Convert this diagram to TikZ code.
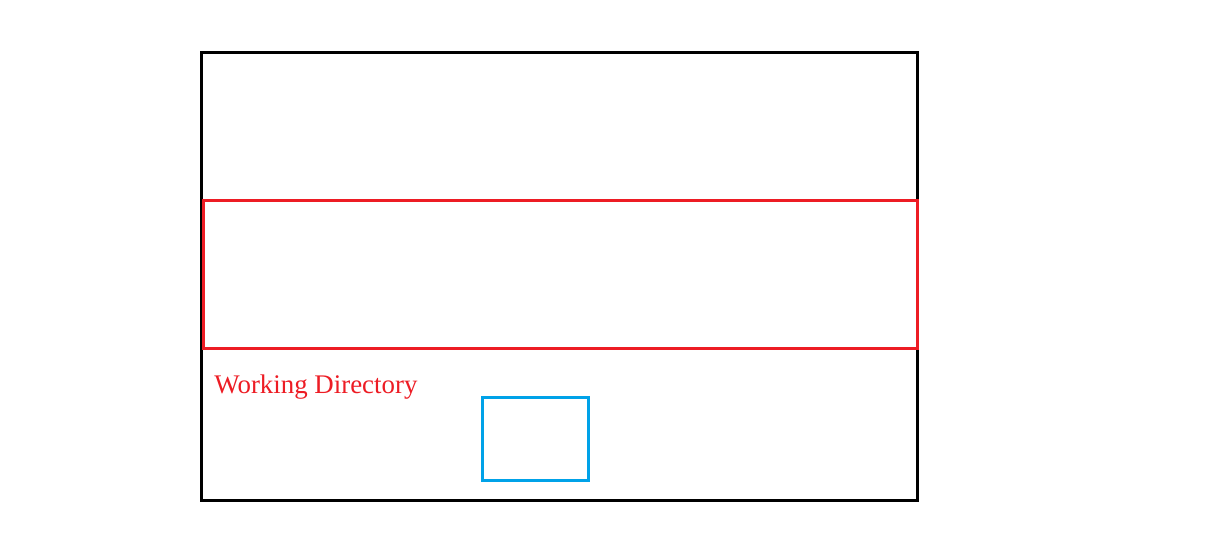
\documentclass[tikz,border=0pt]{standalone}
\usepackage{fontspec}
\setmainfont{Liberation Serif}
\usepackage{xcolor}
\usepackage{tikz}
\definecolor{dirred}{HTML}{ED1C24}
\definecolor{fileblue}{HTML}{00A2E8}
\tikzset{
  box/.style={draw,line width=1.7pt,inner sep=0pt,anchor=north west},
}

\begin{document}
\begin{tikzpicture}[x=0.02cm,y=-0.02cm]
\useasboundingbox (0,0) rectangle (1232,540);
\node[box,minimum width=716*0.02cm,minimum height=448*0.02cm] (repo) at (200,51) {};
\node[box,draw=dirred,minimum width=714*0.02cm,minimum height=148*0.02cm] (workdir) at (202,199) {};
\node[text=dirred,anchor=base west,inner sep=0pt,font=\fontsize{15.3}{18}\selectfont] (wdlabel) at (214,394) {Working Directory};
\node[box,draw=fileblue,minimum width=106*0.02cm,minimum height=83*0.02cm] (file) at (481,396) {};
\end{tikzpicture}
\end{document}
